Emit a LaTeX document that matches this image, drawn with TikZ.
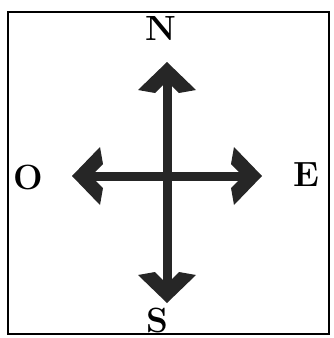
\documentclass[tikz,border=0pt]{standalone}
\begin{document}
\begin{tikzpicture}[x=1pt,y=-1pt,
  letter/.style={font=\fontsize{35}{35}\selectfont\bfseries, inner sep=0pt},
  shaft/.style={line width=9pt, draw=black!85, shorten <=12pt, shorten >=12pt},
  headfill/.style={fill=black!85},
  frame/.style={line width=2pt, draw=black}]
\useasboundingbox (0,0) rectangle (334,338);
\draw[frame] (8,12) rectangle (329,334);
% letters
\node[letter] (N) at (161,28) {N};
\node[letter] (S) at (157,320) {S};
\node[letter] (O) at (28,177) {O};
\node[letter] (E) at (306,175) {E};
% arrow geometry
\coordinate (C) at (167,176);
\coordinate (tN) at (167,62);
\coordinate (tS) at (167,303);
\coordinate (tO) at (72,176);
\coordinate (tE) at (262,176);
% shafts
\draw[shaft] (tN) -- (tS);
\draw[shaft] (tO) -- (tE);
% heads (chevrons), drawn in local frame pointing up
\foreach \t/\r in {tN/0, tE/-90, tS/180, tO/90}{
  \begin{scope}[shift={(\t)}, rotate=\r]
    \fill[headfill] (0,0) -- (-29,28) -- (-12,31) -- (0,19) -- (12,31) -- (29,28) -- cycle;
  \end{scope}
}
\end{tikzpicture}
\end{document}
